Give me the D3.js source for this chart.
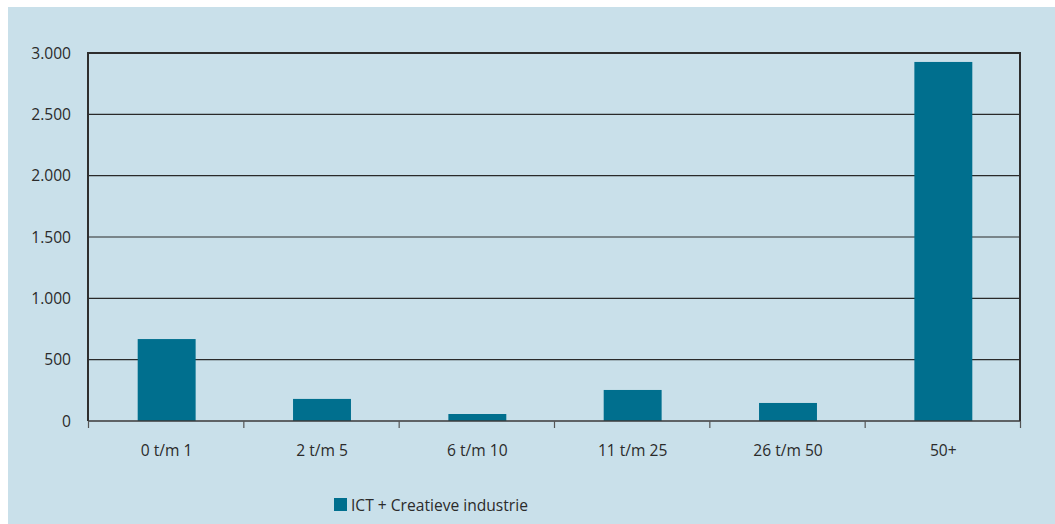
<!DOCTYPE html>
<html>
<head>
<meta charset="utf-8">
<script src="https://cdn.jsdelivr.net/npm/d3@7"></script>
<style>
  body { margin: 0; background: #fff; }
  text { font-family: "Open Sans", sans-serif; fill: #2b2b2b; }
</style>
</head>
<body>
<script>
// data
var categories = ["0 t/m 1", "2 t/m 5", "6 t/m 10", "11 t/m 25", "26 t/m 50", "50+"];
var values = [668, 180, 57, 253, 147, 2927];
var yTicks = [0, 500, 1000, 1500, 2000, 2500, 3000];
var seriesName = "ICT + Creatieve industrie";

var w = 1055, h = 524;
// plot area (note: "top" is reserved on window, so use plot_* names)
var plot_left = 88, plot_right = 1020, plot_top = 53, plot_bottom = 421;
var font_size = "15.6px";

var svg = d3.select("body").append("svg")
  .attr("width", w).attr("height", h);

// background panel
svg.append("rect")
  .attr("x", 8).attr("y", 7).attr("width", w - 8).attr("height", h - 7)
  .style("fill", "#c9e0ea");

var x = d3.scaleBand().domain(categories).range([plot_left, plot_right]).paddingInner(0).paddingOuter(0);
var y = d3.scaleLinear().domain([0, 3000]).range([plot_bottom, plot_top]);

// gridlines
svg.selectAll(".grid").data(yTicks.slice(1, -1)).enter().append("line")
  .attr("x1", plot_left).attr("x2", plot_right)
  .attr("y1", function(d){ return y(d); }).attr("y2", function(d){ return y(d); })
  .attr("stroke", "#2a2a2a").attr("stroke-width", 1.2);

// bars
var bw = x.bandwidth() * 0.373;
svg.selectAll(".bar").data(values).enter().append("rect")
  .attr("x", function(d, i){ return x(categories[i]) + x.bandwidth()/2 - bw/2 + 1; })
  .attr("y", function(d){ return y(d); })
  .attr("width", bw)
  .attr("height", function(d){ return plot_bottom - y(d); })
  .style("fill", "#006f8e");

// frame
svg.append("path")
  .attr("d", "M" + plot_left + "," + plot_bottom + "V" + plot_top + "H" + plot_right + "V" + plot_bottom)
  .attr("fill", "none").attr("stroke", "#2e2e2e").attr("stroke-width", 2);
svg.append("line")
  .attr("x1", plot_left).attr("x2", plot_right).attr("y1", plot_bottom).attr("y2", plot_bottom)
  .attr("stroke", "#3a3a3a").attr("stroke-width", 1.5);

// x ticks at category boundaries
var bounds = categories.map(function(c){ return x(c); }).concat([plot_right]);
svg.selectAll(".xtick").data(bounds).enter().append("line")
  .attr("x1", function(d){ return d + 0.5; }).attr("x2", function(d){ return d + 0.5; })
  .attr("y1", plot_bottom).attr("y2", plot_bottom + 7)
  .attr("stroke", "#555").attr("stroke-width", 1.2);

// x labels
svg.selectAll(".xlab").data(categories).enter().append("text")
  .attr("x", function(d){ return x(d) + x.bandwidth()/2 + 1; })
  .attr("y", 456)
  .attr("text-anchor", "middle")
  .style("font-size", font_size)
  .text(function(d){ return d; });

// y labels
var fmt = function(d){ return d >= 1000 ? d3.format(",")(d).replace(",", ".") : String(d); };
svg.selectAll(".ylab").data(yTicks).enter().append("text")
  .attr("x", 71)
  .attr("y", function(d){ return y(d) + 5.5; })
  .attr("text-anchor", "end")
  .style("font-size", font_size)
  .text(fmt);

// legend
svg.append("rect")
  .attr("x", 334).attr("y", 498).attr("width", 13).attr("height", 13)
  .style("fill", "#006f8e");
svg.append("text")
  .attr("x", 351).attr("y", 511)
  .style("font-size", font_size)
  .text(seriesName);
</script>
</body>
</html>
